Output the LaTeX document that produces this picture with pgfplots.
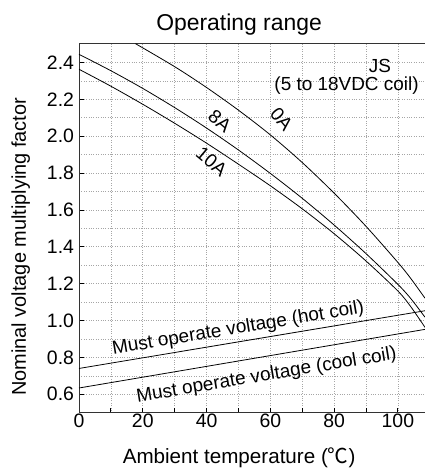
\documentclass[border=0pt]{standalone}
\usepackage{pgfplots}
\pgfplotsset{compat=1.18}
\usepackage{fontspec}
\setmainfont{Liberation Sans}
\newfontfamily\cjk{Noto Sans CJK JP}

\pgfplotstableread{
x y
17.7 2.502
30 2.377
40 2.264
50 2.141
60 2.007
70 1.857
80 1.691
90 1.511
100 1.315
104 1.229
108.5 1.121
}\zeroA

\pgfplotstableread{
x y
0 2.444
10 2.355
20 2.259
30 2.155
40 2.044
50 1.925
60 1.798
70 1.663
80 1.518
90 1.363
100 1.196
104 1.120
108.5 1.018
}\eightA

\pgfplotstableread{
x y
0 2.363
10 2.271
20 2.173
30 2.070
40 1.962
50 1.848
60 1.731
70 1.606
80 1.471
90 1.323
100 1.160
104 1.076
108.5 0.963
}\tenA

\begin{document}
\begin{tikzpicture}
\begin{axis}[
  scale only axis,
  width=346bp, height=368.7bp,
  xmin=0, xmax=108.5, ymin=0.5, ymax=2.5,
  xtick={0,10,...,100},
  xticklabels={0,,20,,40,,60,,80,,100},
  ytick={0.6,0.8,1.0,1.2,1.4,1.6,1.8,2.0,2.2,2.4},
  minor ytick={0.7,0.9,1.1,1.3,1.5,1.7,1.9,2.1,2.3},
  xtick pos=bottom, ytick pos=left,
  grid=both,
  major grid style={gray!70, dotted, line width=0.6pt},
  minor grid style={gray!70, dotted, line width=0.6pt},
  minor tick length=0pt,
  major tick length=5bp,
  tick style={black, line width=0.8pt},
  axis line style={line width=1pt, black!80},
  ticklabel style={font=\fontsize{19.5}{22}\selectfont},
  /pgf/number format/assume math mode=true,
  yticklabel style={xshift=-1.5bp, /pgf/number format/.cd, fixed, fixed zerofill, precision=1},
  xticklabel style={yshift=2bp},
  clip=false,
]
\addplot[black, line width=0.8pt, smooth] table {\zeroA};
\addplot[black, line width=0.8pt, smooth] table {\eightA};
\addplot[black, line width=0.8pt, smooth] table {\tenA};
\addplot[black, line width=0.8pt] coordinates {(0,0.740) (108.5,1.053)};
\addplot[black, line width=0.8pt] coordinates {(0,0.634) (108.5,0.952)};

\coordinate (bl) at (rel axis cs:0,0);
\coordinate (tr) at (rel axis cs:1,1);

\node[font=\fontsize{23}{26}\selectfont] at (axis cs:50.2,2.605) {Operating range};
\node[font=\fontsize{20.7}{24}\selectfont] at (axis cs:50.2,0.257) {Ambient temperature ({\cjk ℃})};
\node[font=\fontsize{20}{24}\selectfont, rotate=90] at (axis cs:-18.3,1.4) {Nominal voltage multiplying factor};

\node[font=\fontsize{19}{22}\selectfont] at (axis cs:94.4,2.38) {JS};
\node[font=\fontsize{19}{22}\selectfont] at (axis cs:83.9,2.272) {(5 to 18VDC coil)};

\node[font=\fontsize{19}{22}\selectfont, rotate=-50] at (axis cs:63.5,2.09) {0A};
\node[font=\fontsize{19}{22}\selectfont, rotate=-40] at (axis cs:44.2,2.08) {8A};
\node[font=\fontsize{19}{22}\selectfont, rotate=-40] at (axis cs:41.6,1.863) {10A};

\node[font=\fontsize{19}{22}\selectfont, rotate=9.4] at (axis cs:49.9,0.955) {Must operate voltage (hot coil)};
\node[font=\fontsize{19}{22}\selectfont, rotate=9.5] at (axis cs:58.8,0.700) {Must operate voltage (cool coil)};
\end{axis}
\pgfresetboundingbox
\path ([shift={(-79bp,-60.3bp)}]bl) rectangle ([shift={(-0.7bp,44bp)}]tr);
\end{tikzpicture}
\end{document}
